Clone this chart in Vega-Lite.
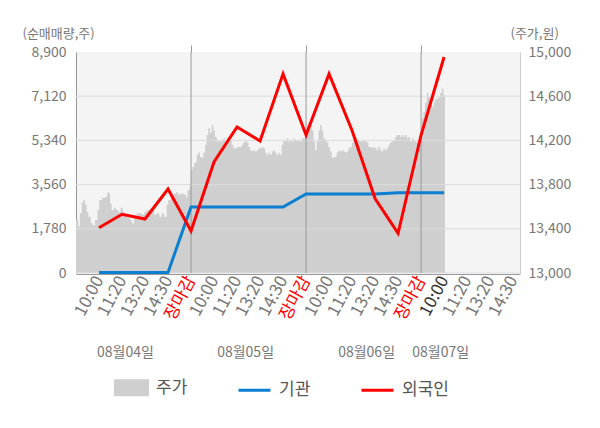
{
  "$schema": "https://vega.github.io/schema/vega-lite/v6.json",
  "width": 444,
  "height": 221,
  "autosize": {"type": "none"},
  "padding": {"left": 76, "top": 52, "right": 80, "bottom": 155},
  "config": {
    "font": "Noto Sans CJK KR",
    "view": {"fill": "#f4f4f4", "stroke": null}
  },
  "layer": [
    {
      "data": {"values": [
        {"t": 0.00, "p": 13480}, {"t": 0.10, "p": 13420}, {"t": 0.17, "p": 13540}, {"t": 0.25, "p": 13640},
        {"t": 0.32, "p": 13660}, {"t": 0.39, "p": 13620}, {"t": 0.46, "p": 13550}, {"t": 0.54, "p": 13510},
        {"t": 0.64, "p": 13450}, {"t": 0.72, "p": 13430}, {"t": 0.83, "p": 13480}, {"t": 0.93, "p": 13570},
        {"t": 1.01, "p": 13660}, {"t": 1.12, "p": 13680}, {"t": 1.26, "p": 13690}, {"t": 1.36, "p": 13730},
        {"t": 1.43, "p": 13720}, {"t": 1.48, "p": 13630}, {"t": 1.55, "p": 13570}, {"t": 1.65, "p": 13590},
        {"t": 1.74, "p": 13570}, {"t": 1.84, "p": 13550}, {"t": 1.94, "p": 13590}, {"t": 2.03, "p": 13550},
        {"t": 2.13, "p": 13530}, {"t": 2.23, "p": 13500}, {"t": 2.35, "p": 13480}, {"t": 2.42, "p": 13450},
        {"t": 2.52, "p": 13510}, {"t": 2.64, "p": 13540}, {"t": 2.75, "p": 13540}, {"t": 2.86, "p": 13530},
        {"t": 2.96, "p": 13550}, {"t": 3.07, "p": 13570}, {"t": 3.19, "p": 13540}, {"t": 3.29, "p": 13590},
        {"t": 3.39, "p": 13530}, {"t": 3.51, "p": 13540}, {"t": 3.62, "p": 13510}, {"t": 3.73, "p": 13540},
        {"t": 3.83, "p": 13510}, {"t": 3.94, "p": 13620}, {"t": 4.01, "p": 13660}, {"t": 4.12, "p": 13690},
        {"t": 4.23, "p": 13720}, {"t": 4.35, "p": 13730}, {"t": 4.45, "p": 13710}, {"t": 4.55, "p": 13720},
        {"t": 4.67, "p": 13710}, {"t": 4.78, "p": 13680}, {"t": 4.84, "p": 13750}, {"t": 4.93, "p": 13780},
        {"t": 5.00, "p": 13930}, {"t": 5.06, "p": 13960}, {"t": 5.14, "p": 14000}, {"t": 5.25, "p": 14070},
        {"t": 5.32, "p": 14090}, {"t": 5.39, "p": 14050}, {"t": 5.47, "p": 14040}, {"t": 5.54, "p": 14090},
        {"t": 5.61, "p": 14160}, {"t": 5.68, "p": 14250}, {"t": 5.75, "p": 14310}, {"t": 5.83, "p": 14270},
        {"t": 5.90, "p": 14340}, {"t": 5.97, "p": 14290}, {"t": 6.04, "p": 14230}, {"t": 6.12, "p": 14190},
        {"t": 6.19, "p": 14200}, {"t": 6.26, "p": 14190}, {"t": 6.33, "p": 14200}, {"t": 6.41, "p": 14220},
        {"t": 6.48, "p": 14190}, {"t": 6.55, "p": 14220}, {"t": 6.62, "p": 14230}, {"t": 6.70, "p": 14200},
        {"t": 6.77, "p": 14160}, {"t": 6.84, "p": 14130}, {"t": 6.91, "p": 14130}, {"t": 6.99, "p": 14140},
        {"t": 7.06, "p": 14140}, {"t": 7.13, "p": 14140}, {"t": 7.20, "p": 14160}, {"t": 7.27, "p": 14180},
        {"t": 7.35, "p": 14200}, {"t": 7.42, "p": 14180}, {"t": 7.49, "p": 14140}, {"t": 7.57, "p": 14110},
        {"t": 7.64, "p": 14100}, {"t": 7.71, "p": 14110}, {"t": 7.78, "p": 14100}, {"t": 7.86, "p": 14110},
        {"t": 7.93, "p": 14130}, {"t": 8.00, "p": 14130}, {"t": 8.07, "p": 14140}, {"t": 8.14, "p": 14130},
        {"t": 8.22, "p": 14090}, {"t": 8.29, "p": 14070}, {"t": 8.36, "p": 14090}, {"t": 8.43, "p": 14070},
        {"t": 8.51, "p": 14100}, {"t": 8.58, "p": 14110}, {"t": 8.65, "p": 14090}, {"t": 8.72, "p": 14070},
        {"t": 8.80, "p": 14090}, {"t": 8.87, "p": 14070}, {"t": 8.94, "p": 14160}, {"t": 9.01, "p": 14200},
        {"t": 9.09, "p": 14190}, {"t": 9.16, "p": 14220}, {"t": 9.23, "p": 14190}, {"t": 9.30, "p": 14200},
        {"t": 9.38, "p": 14190}, {"t": 9.45, "p": 14220}, {"t": 9.52, "p": 14200}, {"t": 9.60, "p": 14190},
        {"t": 9.67, "p": 14200}, {"t": 9.74, "p": 14190}, {"t": 9.81, "p": 14220}, {"t": 9.88, "p": 14220},
        {"t": 9.96, "p": 14250},
        {"t": 10.04, "p": 14340}, {"t": 10.10, "p": 14360}, {"t": 10.17, "p": 14370}, {"t": 10.25, "p": 14290},
        {"t": 10.32, "p": 14190}, {"t": 10.39, "p": 14110}, {"t": 10.46, "p": 14190}, {"t": 10.54, "p": 14290},
        {"t": 10.61, "p": 14340}, {"t": 10.68, "p": 14290}, {"t": 10.75, "p": 14220}, {"t": 10.83, "p": 14200},
        {"t": 10.90, "p": 14180}, {"t": 10.97, "p": 14140}, {"t": 11.04, "p": 14100}, {"t": 11.12, "p": 14040},
        {"t": 11.19, "p": 14050}, {"t": 11.26, "p": 14050}, {"t": 11.33, "p": 14090}, {"t": 11.41, "p": 14110},
        {"t": 11.48, "p": 14100}, {"t": 11.55, "p": 14110}, {"t": 11.62, "p": 14100}, {"t": 11.70, "p": 14090},
        {"t": 11.77, "p": 14100}, {"t": 11.84, "p": 14130}, {"t": 11.91, "p": 14140}, {"t": 11.99, "p": 14180},
        {"t": 12.06, "p": 14200}, {"t": 12.13, "p": 14230}, {"t": 12.20, "p": 14220}, {"t": 12.27, "p": 14200},
        {"t": 12.35, "p": 14190}, {"t": 12.42, "p": 14190}, {"t": 12.49, "p": 14200}, {"t": 12.57, "p": 14190},
        {"t": 12.64, "p": 14180}, {"t": 12.71, "p": 14140}, {"t": 12.78, "p": 14140}, {"t": 12.86, "p": 14130},
        {"t": 12.93, "p": 14140}, {"t": 13.00, "p": 14130}, {"t": 13.07, "p": 14110}, {"t": 13.14, "p": 14140},
        {"t": 13.22, "p": 14110}, {"t": 13.29, "p": 14100}, {"t": 13.36, "p": 14130}, {"t": 13.43, "p": 14110},
        {"t": 13.51, "p": 14130}, {"t": 13.58, "p": 14160}, {"t": 13.65, "p": 14180}, {"t": 13.72, "p": 14190},
        {"t": 13.80, "p": 14200}, {"t": 13.87, "p": 14230}, {"t": 13.94, "p": 14250}, {"t": 14.01, "p": 14250},
        {"t": 14.09, "p": 14230}, {"t": 14.16, "p": 14250}, {"t": 14.23, "p": 14230}, {"t": 14.30, "p": 14250},
        {"t": 14.38, "p": 14220}, {"t": 14.45, "p": 14230}, {"t": 14.52, "p": 14190}, {"t": 14.60, "p": 14220},
        {"t": 14.67, "p": 14200}, {"t": 14.74, "p": 14190}, {"t": 14.81, "p": 14180}, {"t": 14.88, "p": 14200},
        {"t": 14.96, "p": 14230},
        {"t": 15.04, "p": 14400}, {"t": 15.10, "p": 14460}, {"t": 15.17, "p": 14540}, {"t": 15.25, "p": 14630},
        {"t": 15.32, "p": 14590}, {"t": 15.39, "p": 14570}, {"t": 15.47, "p": 14500}, {"t": 15.54, "p": 14540},
        {"t": 15.61, "p": 14570}, {"t": 15.68, "p": 14580}, {"t": 15.75, "p": 14590}, {"t": 15.83, "p": 14630},
        {"t": 15.90, "p": 14670}, {"t": 15.97, "p": 14610}, {"t": 16.04, "p": 14540}
      ]},
      "mark": {"type": "area", "color": "#cfcfcf", "interpolate": "step-after"},
      "encoding": {
        "x": {
          "field": "t", "type": "quantitative",
          "scale": {"domain": [0, 19.3], "nice": false, "zero": false},
          "axis": {
            "orient": "bottom",
            "values": [1, 2, 3, 4, 5, 6, 7, 8, 9, 10, 11, 12, 13, 14, 15, 16, 17, 18, 19],
            "labelExpr": "['10:00', '11:20', '13:20', '14:30', '장마감'][(datum.value - 1) % 5]",
            "labelAngle": -62,
            "labelFontSize": 17,
            "labelColor": {
              "condition": [
                {"test": "datum.value % 5 === 0", "value": "#ff0000"},
                {"test": "datum.value === 16", "value": "#333333"}
              ],
              "value": "#777777"
            },
            "labelOverlap": false,
            "labelFlush": false,
            "labelPadding": 3,
            "ticks": false,
            "grid": false,
            "domainColor": "#999999",
            "offset": 1,
            "title": null
          }
        },
        "y": {
          "field": "p", "type": "quantitative",
          "scale": {"domain": [13000, 15000], "nice": false, "zero": false},
          "axis": {
            "orient": "right",
            "values": [13000, 13400, 13800, 14200, 14600, 15000],
            "format": ",.0f",
            "labelFontSize": 14,
            "labelColor": "#777777",
            "labelPadding": 8,
            "ticks": false,
            "grid": false,
            "domainColor": "#cccccc",
            "title": "(주가,원)",
            "titleAngle": 0,
            "titleAlign": "left",
            "titleBaseline": "middle",
            "titleX": -10,
            "titleY": -19,
            "titleFontSize": 13,
            "titleFontWeight": "normal",
            "titleColor": "#777777"
          }
        },
        "y2": {"datum": 13000}
      }
    },
    {
      "data": {"values": [{"g": 0}, {"g": 1780}, {"g": 3560}, {"g": 5340}, {"g": 7120}]},
      "mark": {"type": "rule", "color": "#dcdcdc", "strokeWidth": 1},
      "encoding": {
        "y": {"field": "g", "type": "quantitative", "scale": {"domain": [0, 8900], "nice": false}, "axis": null}
      }
    },
    {
      "data": {"values": [{"d": 5}, {"d": 10}, {"d": 15}]},
      "mark": {"type": "rule", "color": "#999999", "strokeWidth": 1},
      "encoding": {
        "x": {
          "field": "d", "type": "quantitative",
          "axis": {
            "orient": "top",
            "values": [5, 10, 15],
            "labels": false,
            "domain": false,
            "grid": false,
            "ticks": true,
            "tickSize": 7,
            "tickColor": "#999999",
            "title": null
          }
        }
      }
    },
    {
      "data": {"values": [
        {"t": 1, "s": "기관", "v": 25}, {"t": 2, "s": "기관", "v": 25}, {"t": 3, "s": "기관", "v": 25},
        {"t": 4, "s": "기관", "v": 25}, {"t": 5, "s": "기관", "v": 2658}, {"t": 6, "s": "기관", "v": 2658},
        {"t": 7, "s": "기관", "v": 2658}, {"t": 8, "s": "기관", "v": 2658}, {"t": 9, "s": "기관", "v": 2658},
        {"t": 10, "s": "기관", "v": 3181}, {"t": 11, "s": "기관", "v": 3181}, {"t": 12, "s": "기관", "v": 3181},
        {"t": 13, "s": "기관", "v": 3181}, {"t": 14, "s": "기관", "v": 3234}, {"t": 15, "s": "기관", "v": 3234},
        {"t": 16, "s": "기관", "v": 3234},
        {"t": 1, "s": "외국인", "v": 1824}, {"t": 2, "s": "외국인", "v": 2364}, {"t": 3, "s": "외국인", "v": 2175},
        {"t": 4, "s": "외국인", "v": 3383}, {"t": 5, "s": "외국인", "v": 1691}, {"t": 6, "s": "외국인", "v": 4470},
        {"t": 7, "s": "외국인", "v": 5879}, {"t": 8, "s": "외국인", "v": 5316}, {"t": 9, "s": "외국인", "v": 8020},
        {"t": 10, "s": "외국인", "v": 5557}, {"t": 11, "s": "외국인", "v": 8020}, {"t": 12, "s": "외국인", "v": 5740},
        {"t": 13, "s": "외국인", "v": 3000}, {"t": 14, "s": "외국인", "v": 1600}, {"t": 15, "s": "외국인", "v": 5557},
        {"t": 16, "s": "외국인", "v": 8700}
      ]},
      "mark": {"type": "line", "strokeWidth": 3},
      "encoding": {
        "x": {
          "field": "t", "type": "quantitative",
          "axis": {
            "orient": "bottom",
            "values": [2.13, 7.35, 12.61, 15.83],
            "labelExpr": "datum.value < 5 ? '08월04일' : datum.value < 10 ? '08월05일' : datum.value < 15 ? '08월06일' : '08월07일'",
            "labelAngle": 0,
            "labelFontSize": 14,
            "labelColor": "#777777",
            "labelOverlap": false,
            "labelFlush": false,
            "labelPadding": 2,
            "offset": 70,
            "domain": false,
            "ticks": false,
            "grid": false,
            "title": null
          }
        },
        "y": {
          "field": "v", "type": "quantitative",
          "scale": {"domain": [0, 8900], "nice": false},
          "axis": {
            "orient": "left",
            "values": [0, 1780, 3560, 5340, 7120, 8900],
            "format": ",.0f",
            "labelFontSize": 14,
            "labelColor": "#777777",
            "labelPadding": 10,
            "ticks": false,
            "grid": false,
            "domainColor": "#999999",
            "title": "(순매매량,주)",
            "titleAngle": 0,
            "titleAlign": "left",
            "titleBaseline": "middle",
            "titleX": -54,
            "titleY": -19,
            "titleFontSize": 13,
            "titleFontWeight": "normal",
            "titleColor": "#777777"
          }
        },
        "color": {
          "field": "s", "type": "nominal",
          "scale": {"domain": ["주가", "기관", "외국인"], "range": ["#cfcfcf", "#0a7fd0", "#ff0000"]},
          "legend": {
            "orient": "none",
            "legendX": 38,
            "legendY": 318,
            "direction": "horizontal",
            "title": null,
            "symbolSize": 1024,
            "symbolStrokeWidth": 3,
            "labelFontSize": 17,
            "labelColor": "#555555",
            "labelOffset": 7,
            "columnPadding": 44,
            "encode": {
              "symbols": {
                "update": {
                  "shape": {"signal": "datum.value === '주가' ? 'M-1,-0.44H1V0.44H-1Z' : 'stroke'"},
                  "fill": {"signal": "datum.value === '주가' ? '#cfcfcf' : 'transparent'"},
                  "stroke": {"signal": "datum.value === '주가' ? 'transparent' : datum.value === '기관' ? '#0a7fd0' : '#ff0000'"},
                  "opacity": {"value": 1}
                }
              }
            }
          }
        }
      }
    }
  ],
  "resolve": {
    "scale": {"y": "independent"},
    "axis": {"x": "independent", "y": "independent"}
  }
}
